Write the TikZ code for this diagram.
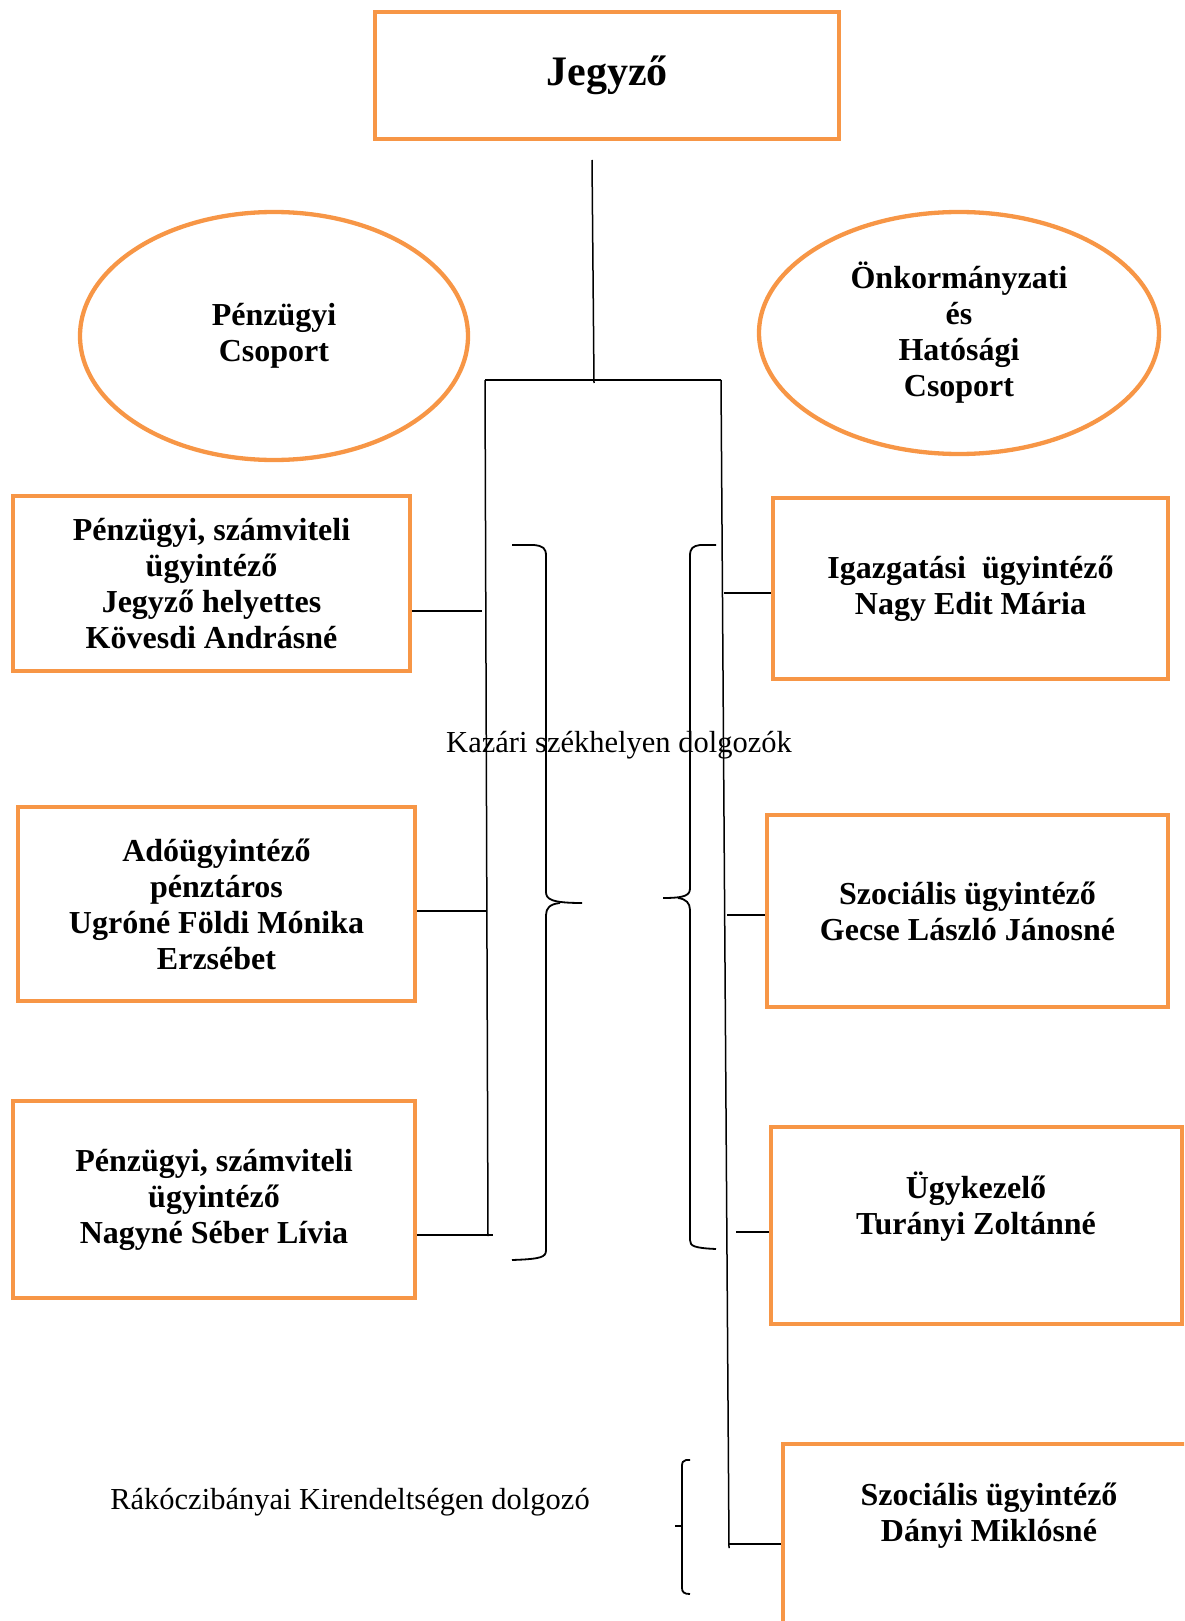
\documentclass[tikz,border=0pt]{standalone}
\usepackage{fontspec}
\setmainfont{Liberation Serif}
\usetikzlibrary{shapes.geometric}
\definecolor{boxorange}{HTML}{F79646}

\begin{document}
\begin{tikzpicture}[
    x=1pt, y=-1pt,
    every node/.style={font=\fontsize{32}{36}\selectfont\bfseries, align=center},
    post/.style={draw=boxorange, line width=4.8pt, rectangle, inner sep=0pt},
    group/.style={draw=boxorange, line width=4.3pt, ellipse, inner sep=0pt},
    wire/.style={draw=black, line width=1.5pt},
    brace/.style={draw=black, line width=1.8pt},
    note/.style={font=\fontsize{30.5}{36}\selectfont\mdseries, inner sep=0pt},
]
\clip (0,0) rectangle (1184,1621);

% ---------------------------------------------------------------- head
\node[post, minimum width=464pt, minimum height=127pt,
      font=\fontsize{42}{48}\selectfont\bfseries] (jegyzo) at (607,75.5) {Jegyző};

% ---------------------------------------------------------------- groups
\node[group, minimum width=388pt, minimum height=248pt] (penzcsop) at (274,336)
    {Pénzügyi\\Csoport};
\node[group, minimum width=400pt, minimum height=242pt] (onkcsop) at (959,333)
    {Önkormányzati\\és\\Hatósági\\Csoport};

% ---------------------------------------------------------------- left posts
\node[post, minimum width=397pt, minimum height=175pt] (L1) at (211.5,583.5)
    {Pénzügyi, számviteli\\ügyintéző\\Jegyző helyettes\\Kövesdi Andrásné};
\node[post, minimum width=397pt, minimum height=194pt] (L2) at (216.5,904)
    {Adóügyintéző\\pénztáros\\Ugróné Földi Mónika\\Erzsébet};
\node[post, minimum width=402pt, minimum height=197pt] (L3) at (214,1199.5)
    {Pénzügyi, számviteli\\ügyintéző\\Nagyné Séber Lívia};

% ---------------------------------------------------------------- right posts
\node[post, minimum width=395pt, minimum height=181pt] (R1) at (970.5,588.5)
    {Igazgatási~~ügyintéző\\Nagy Edit Mária};
\node[post, minimum width=401pt, minimum height=192pt] (R2) at (967.5,911)
    {Szociális ügyintéző\\Gecse László Jánosné};
\node[post, minimum width=411pt, minimum height=197pt] (R3) at (976.5,1225.5) {};
\node (R3txt) at (976,1207) {Ügykezelő\\Turányi Zoltánné};
\node[post, minimum width=417pt, minimum height=256pt] (R4) at (991.5,1572) {};
\node (R4txt) at (989,1516) {Szociális ügyintéző\\Dányi Miklósné};

% ---------------------------------------------------------------- tree
\coordinate (stemtop) at (592,160);
\coordinate (stembot) at (594,383);
\coordinate (lt) at (485,380);
\coordinate (lb) at (488,1236);
\coordinate (rt) at (721,380);
\coordinate (rb) at (729,1548);
\draw[wire] (stemtop) -- (stembot);
\draw[wire] (lt) -- (rt);
\draw[wire] (lt) -- (lb);
\draw[wire] (rt) -- (rb);

\coordinate (c1) at (482,611);
\coordinate (c2) at (487,911);
\coordinate (c3) at (493,1235);
\coordinate (c4) at (724,593);
\coordinate (c5) at (727,915);
\coordinate (c6) at (736,1232);
\coordinate (c7) at (729,1544);
\foreach \b/\c in {L1/c1, L2/c2, L3/c3} {
    \draw[wire] (\b.east |- \c) -- (\c);
}
\foreach \b/\c in {R1/c4, R2/c5, R3/c6, R4/c7} {
    \draw[wire] (\c) -- (\b.west |- \c);
}

% ---------------------------------------------------------------- braces
\draw[brace] (512,545) -- (534,545) .. controls (543,546) and (546,548) .. (546,556)
    -- (546,892) .. controls (546,899) and (551,903) .. (582,903);
\draw[brace] (560,903) .. controls (550,904) and (546,908) .. (546,915)
    -- (546,1250) .. controls (546,1257) and (542,1259) .. (512,1260);

\draw[brace] (716,545) -- (700,545) .. controls (693,546) and (690,548) .. (690,556)
    -- (690,888) .. controls (690,895) and (686,898) .. (663,898);
\draw[brace] (678,898) .. controls (686,899) and (690,903) .. (690,910)
    -- (690,1240) .. controls (690,1246) and (694,1248) .. (716,1249);

\draw[brace] (690,1460) -- (686,1460) .. controls (683,1461) and (682,1462) .. (682,1466)
    -- (682,1588) .. controls (682,1592) and (684,1594) .. (690,1594);
\draw[brace] (675,1526) -- (682,1526);

% ---------------------------------------------------------------- notes
\node[note] (kazar) at (619,745) {Kazári székhelyen dolgozók};
\node[note] (rakoc) at (350,1502) {Rákóczibányai Kirendeltségen dolgozó};

\end{tikzpicture}
\end{document}
